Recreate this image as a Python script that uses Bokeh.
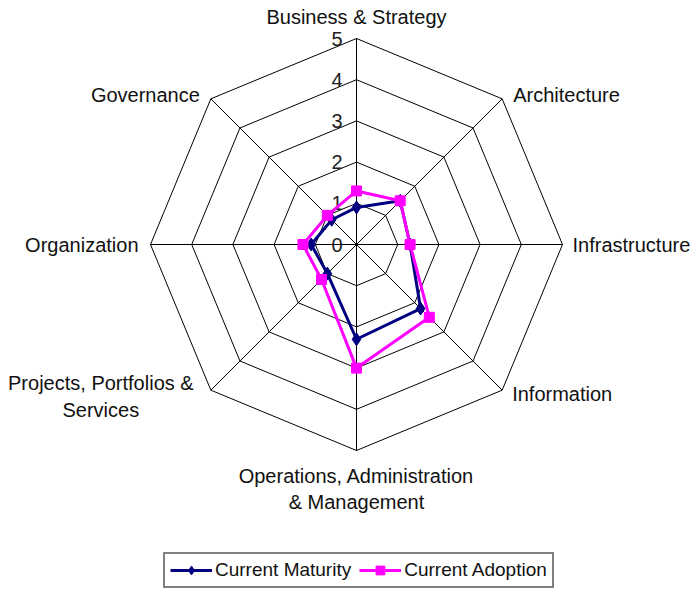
import numpy as np
from bokeh.plotting import figure
from bokeh.models import Range1d, Legend, LegendItem, ColumnDataSource
from bokeh.core.properties import value
from bokeh.embed import file_html
from bokeh.resources import INLINE

categories = ["Business & Strategy", "Architecture", "Infrastructure", "Information",
              "Operations, Administration\n& Management", "Projects, Portfolios &\nServices",
              "Organization", "Governance"]
maturity = [0.9, 1.5, 1.3, 2.2, 2.3, 1.0, 1.1, 0.85]
adoption = [1.3, 1.5, 1.3, 2.5, 3.0, 1.2, 1.3, 1.0]
ticks = [0, 1, 2, 3, 4, 5]
series_names = ["Current Maturity", "Current Adoption"]

W, H = 698, 596
cx, cy = 356, 244
s = 41.2
rmax = 5

p = figure(width=W, height=H, output_backend="svg", toolbar_location=None,
           x_range=Range1d(-cx / s, (W - cx) / s), y_range=Range1d(-(H - cy) / s, cy / s),
           min_border=0)
p.axis.visible = False
p.grid.visible = False
p.outline_line_color = None
p.background_fill_color = "white"

n = len(categories)
ang = np.pi / 2 - np.arange(n) * 2 * np.pi / n
ux, uy = np.cos(ang), np.sin(ang)

# grid rings
xs, ys = [], []
for t in ticks[1:]:
    xs.append(list(np.append(ux * t, ux[0] * t)))
    ys.append(list(np.append(uy * t, uy[0] * t)))
p.multi_line(xs, ys, line_color="black", line_width=1)
p.segment(x0=np.zeros(n), y0=np.zeros(n), x1=ux * rmax, y1=uy * rmax, line_color="black", line_width=1)

# tick labels
p.text(x=np.zeros(len(ticks)), y=np.array(ticks, dtype=float), text=[str(t) for t in ticks],
       text_font=value("Liberation Sans"), text_font_size="20px", text_color="#222222",
       text_align="right", text_baseline="middle", x_offset=-14)

def closed(vals, u):
    v = np.array(vals) * u
    return np.append(v, v[0])

mx, my = closed(maturity, ux), closed(maturity, uy)
ax_, ay_ = closed(adoption, ux), closed(adoption, uy)

navy = "#000080"
pink = "#FF00FF"
l1 = p.line(mx, my, line_color=navy, line_width=3)
s1 = p.scatter(mx[:-1], my[:-1], marker="diamond", size=13, fill_color=navy, line_color=navy)
l2 = p.line(ax_, ay_, line_color=pink, line_width=3)
s2 = p.scatter(ax_[:-1], ay_[:-1], marker="square", size=10, fill_color=pink, line_color=pink)

# category labels
xo = [0, 11, 10, 10, 0, -110, -12, -11]
yo = [-22, -4, 0, 4, 14, -18, 0, -4]
al = ["center", "left", "left", "left", "center", "center", "right", "right"]
bl = ["middle", "middle", "middle", "middle", "top", "top", "middle", "middle"]
src = ColumnDataSource(dict(x=ux * rmax, y=uy * rmax, t=categories, xo=xo, yo=yo, al=al, bl=bl))
p.text(x="x", y="y", text="t", x_offset="xo", y_offset="yo", text_align="al", text_baseline="bl",
       source=src, text_font=value("Liberation Sans"), text_font_size="20px", text_color="#111111",
       text_line_height=1.2)

legend = Legend(items=[LegendItem(label=series_names[0], renderers=[l1, s1]),
                       LegendItem(label=series_names[1], renderers=[l2, s2])],
                orientation="horizontal", location=(163, 8), margin=0, padding=5,
                spacing=8, glyph_width=42, glyph_height=22, label_standoff=3,
                label_text_font="Liberation Sans", label_text_font_size="19px",
                label_text_color="#111111", border_line_color="black", border_line_width=2,
                background_fill_color="white", background_fill_alpha=1)
p.add_layout(legend, "center")

open("out.html", "w").write(file_html(p, INLINE))
